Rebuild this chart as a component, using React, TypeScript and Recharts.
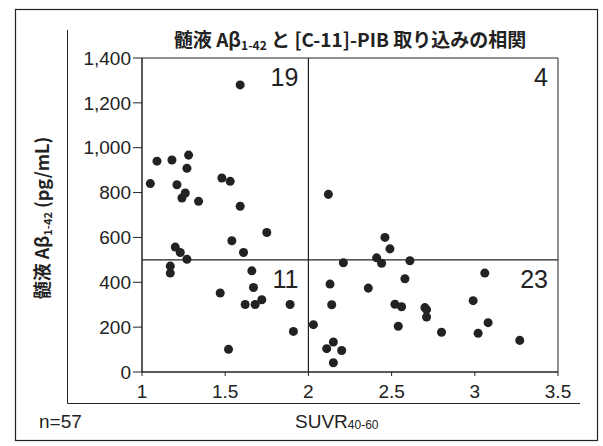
import {
  ScatterChart,
  Scatter,
  XAxis,
  YAxis,
  ZAxis,
  ReferenceLine,
  ReferenceArea,
} from 'recharts';

// ─────────────────────────────────────────────
// Data: SUVR40-60 (x) vs CSF Aβ1-42 pg/mL (y)
// ─────────────────────────────────────────────

const suvr = [
  // upper left
  1.05, 1.09, 1.18, 1.28, 1.27, 1.21, 1.26, 1.24, 1.34, 1.48, 1.53, 1.59, 1.59,
  1.75, 1.54, 1.2, 1.23, 1.27, 1.61,
  // lower left
  1.17, 1.17, 1.47, 1.52, 1.66, 1.67, 1.62, 1.68, 1.72, 1.89, 1.91,
  // upper right
  2.12, 2.46, 2.49, 2.41,
  // lower right
  2.21, 2.44, 2.61, 2.13, 2.14, 2.03, 2.11, 2.15, 2.2, 2.15, 2.36, 2.58, 2.52,
  2.56, 2.54, 2.7, 2.71, 2.71, 2.8, 3.06, 2.99, 3.02, 3.08, 3.27,
];

const abeta = [
  840, 940, 945, 967, 908, 835, 798, 776, 761, 865, 850, 1280, 739, 622, 585,
  557, 533, 503, 533,
  472, 441, 352, 101, 451, 377, 301, 301, 322, 301, 181,
  792, 600, 549, 509,
  487, 485, 496, 392, 300, 211, 104, 134, 96, 41, 374, 416, 302, 291, 204, 287,
  278, 245, 177, 441, 318, 173, 220, 141,
];

const xTicks = [1, 1.5, 2, 2.5, 3, 3.5];
const yTicks = [0, 200, 400, 600, 800, 1000, 1200, 1400];

// cut-offs and quadrant counts
const suvrCut = 2;
const abetaCut = 500;
const quadrantCounts = ['19', '4', '11', '23'];

const points = suvr.map((x, i) => ({ x, y: abeta[i] }));

const FONT = '"Liberation Sans", Arial, sans-serif';
const JP_FONT = '"Noto Sans CJK JP", "Liberation Sans", sans-serif';
const INK = '#222';

export default function App() {
  const countLabel = (value: string) => ({
    value,
    position: 'insideTopRight' as const,
    offset: 10,
    fill: INK,
    fontSize: 25,
    fontFamily: FONT,
  });

  return (
    <div
      style={{
        position: 'absolute',
        left: 0,
        top: 0,
        width: 603,
        height: 446,
        background: '#fff',
      }}
    >
      <ScatterChart
        width={603}
        height={446}
        margin={{ top: 58, right: 45, left: 82, bottom: 34 }}
      >
        <XAxis
          type="number"
          dataKey="x"
          domain={[1, 3.5]}
          ticks={xTicks}
          height={40}
          stroke={INK}
          tickSize={4}
          tickMargin={9}
          tick={{ fill: INK, fontSize: 19, fontFamily: FONT }}
        />
        <YAxis
          type="number"
          dataKey="y"
          domain={[0, 1400]}
          ticks={yTicks}
          width={60}
          stroke={INK}
          tickSize={9}
          tickMargin={2}
          tickFormatter={(v: number) => v.toLocaleString('en-US')}
          tick={{ fill: INK, fontSize: 19, fontFamily: FONT }}
        />
        <ZAxis range={[20, 20]} />

        {/* plot border */}
        <ReferenceArea
          x1={1}
          x2={3.5}
          y1={0}
          y2={1400}
          fill="none"
          stroke={INK}
          strokeWidth={1}
        />

        {/* quadrant counts */}
        <ReferenceArea x1={1} x2={suvrCut} y1={abetaCut} y2={1400} fill="none" label={countLabel(quadrantCounts[0])} />
        <ReferenceArea x1={suvrCut} x2={3.5} y1={abetaCut} y2={1400} fill="none" label={countLabel(quadrantCounts[1])} />
        <ReferenceArea x1={1} x2={suvrCut} y1={0} y2={abetaCut} fill="none" label={countLabel(quadrantCounts[2])} />
        <ReferenceArea x1={suvrCut} x2={3.5} y1={0} y2={abetaCut} fill="none" label={countLabel(quadrantCounts[3])} />

        <ReferenceLine x={suvrCut} stroke={INK} strokeWidth={1.2} />
        <ReferenceLine y={abetaCut} stroke={INK} strokeWidth={1.2} />

        <Scatter data={points} fill={INK} isAnimationActive={false} />
      </ScatterChart>

      {/* frames, title and axis titles */}
      <svg
        width={603}
        height={446}
        style={{ position: 'absolute', left: 0, top: 0, pointerEvents: 'none' }}
      >
        <rect x={15.5} y={9.5} width={582} height={431} fill="none" stroke={INK} strokeWidth={1.2} />
        <polyline points="67.5,30 67.5,403.5 580,403.5" fill="none" stroke={INK} strokeWidth={1} />

        <text x={350} y={47} textAnchor="middle" fontFamily={JP_FONT} fontSize={19} fontWeight={700} fill={INK}>
          髄液 Aβ
          <tspan fontSize={12} dy={3}>1-42</tspan>
          <tspan dy={-3}> と [C-11]-PIB 取り込みの相関</tspan>
        </text>

        <text
          transform="translate(49, 218) rotate(-90)"
          textAnchor="middle"
          fontFamily={JP_FONT}
          fontSize={18}
          fontWeight={700}
          fill={INK}
        >
          髄液 Aβ
          <tspan fontSize={11} dy={3}>1-42</tspan>
          <tspan dy={-3}> (pg/mL)</tspan>
        </text>

        <text x={39} y={428} fontFamily={FONT} fontSize={19} fill={INK}>
          n=57
        </text>
        <text x={295} y={428} fontFamily={FONT} fontSize={19} fill={INK}>
          SUVR
          <tspan fontSize={12} dy={1}>40-60</tspan>
        </text>
      </svg>
    </div>
  );
}
